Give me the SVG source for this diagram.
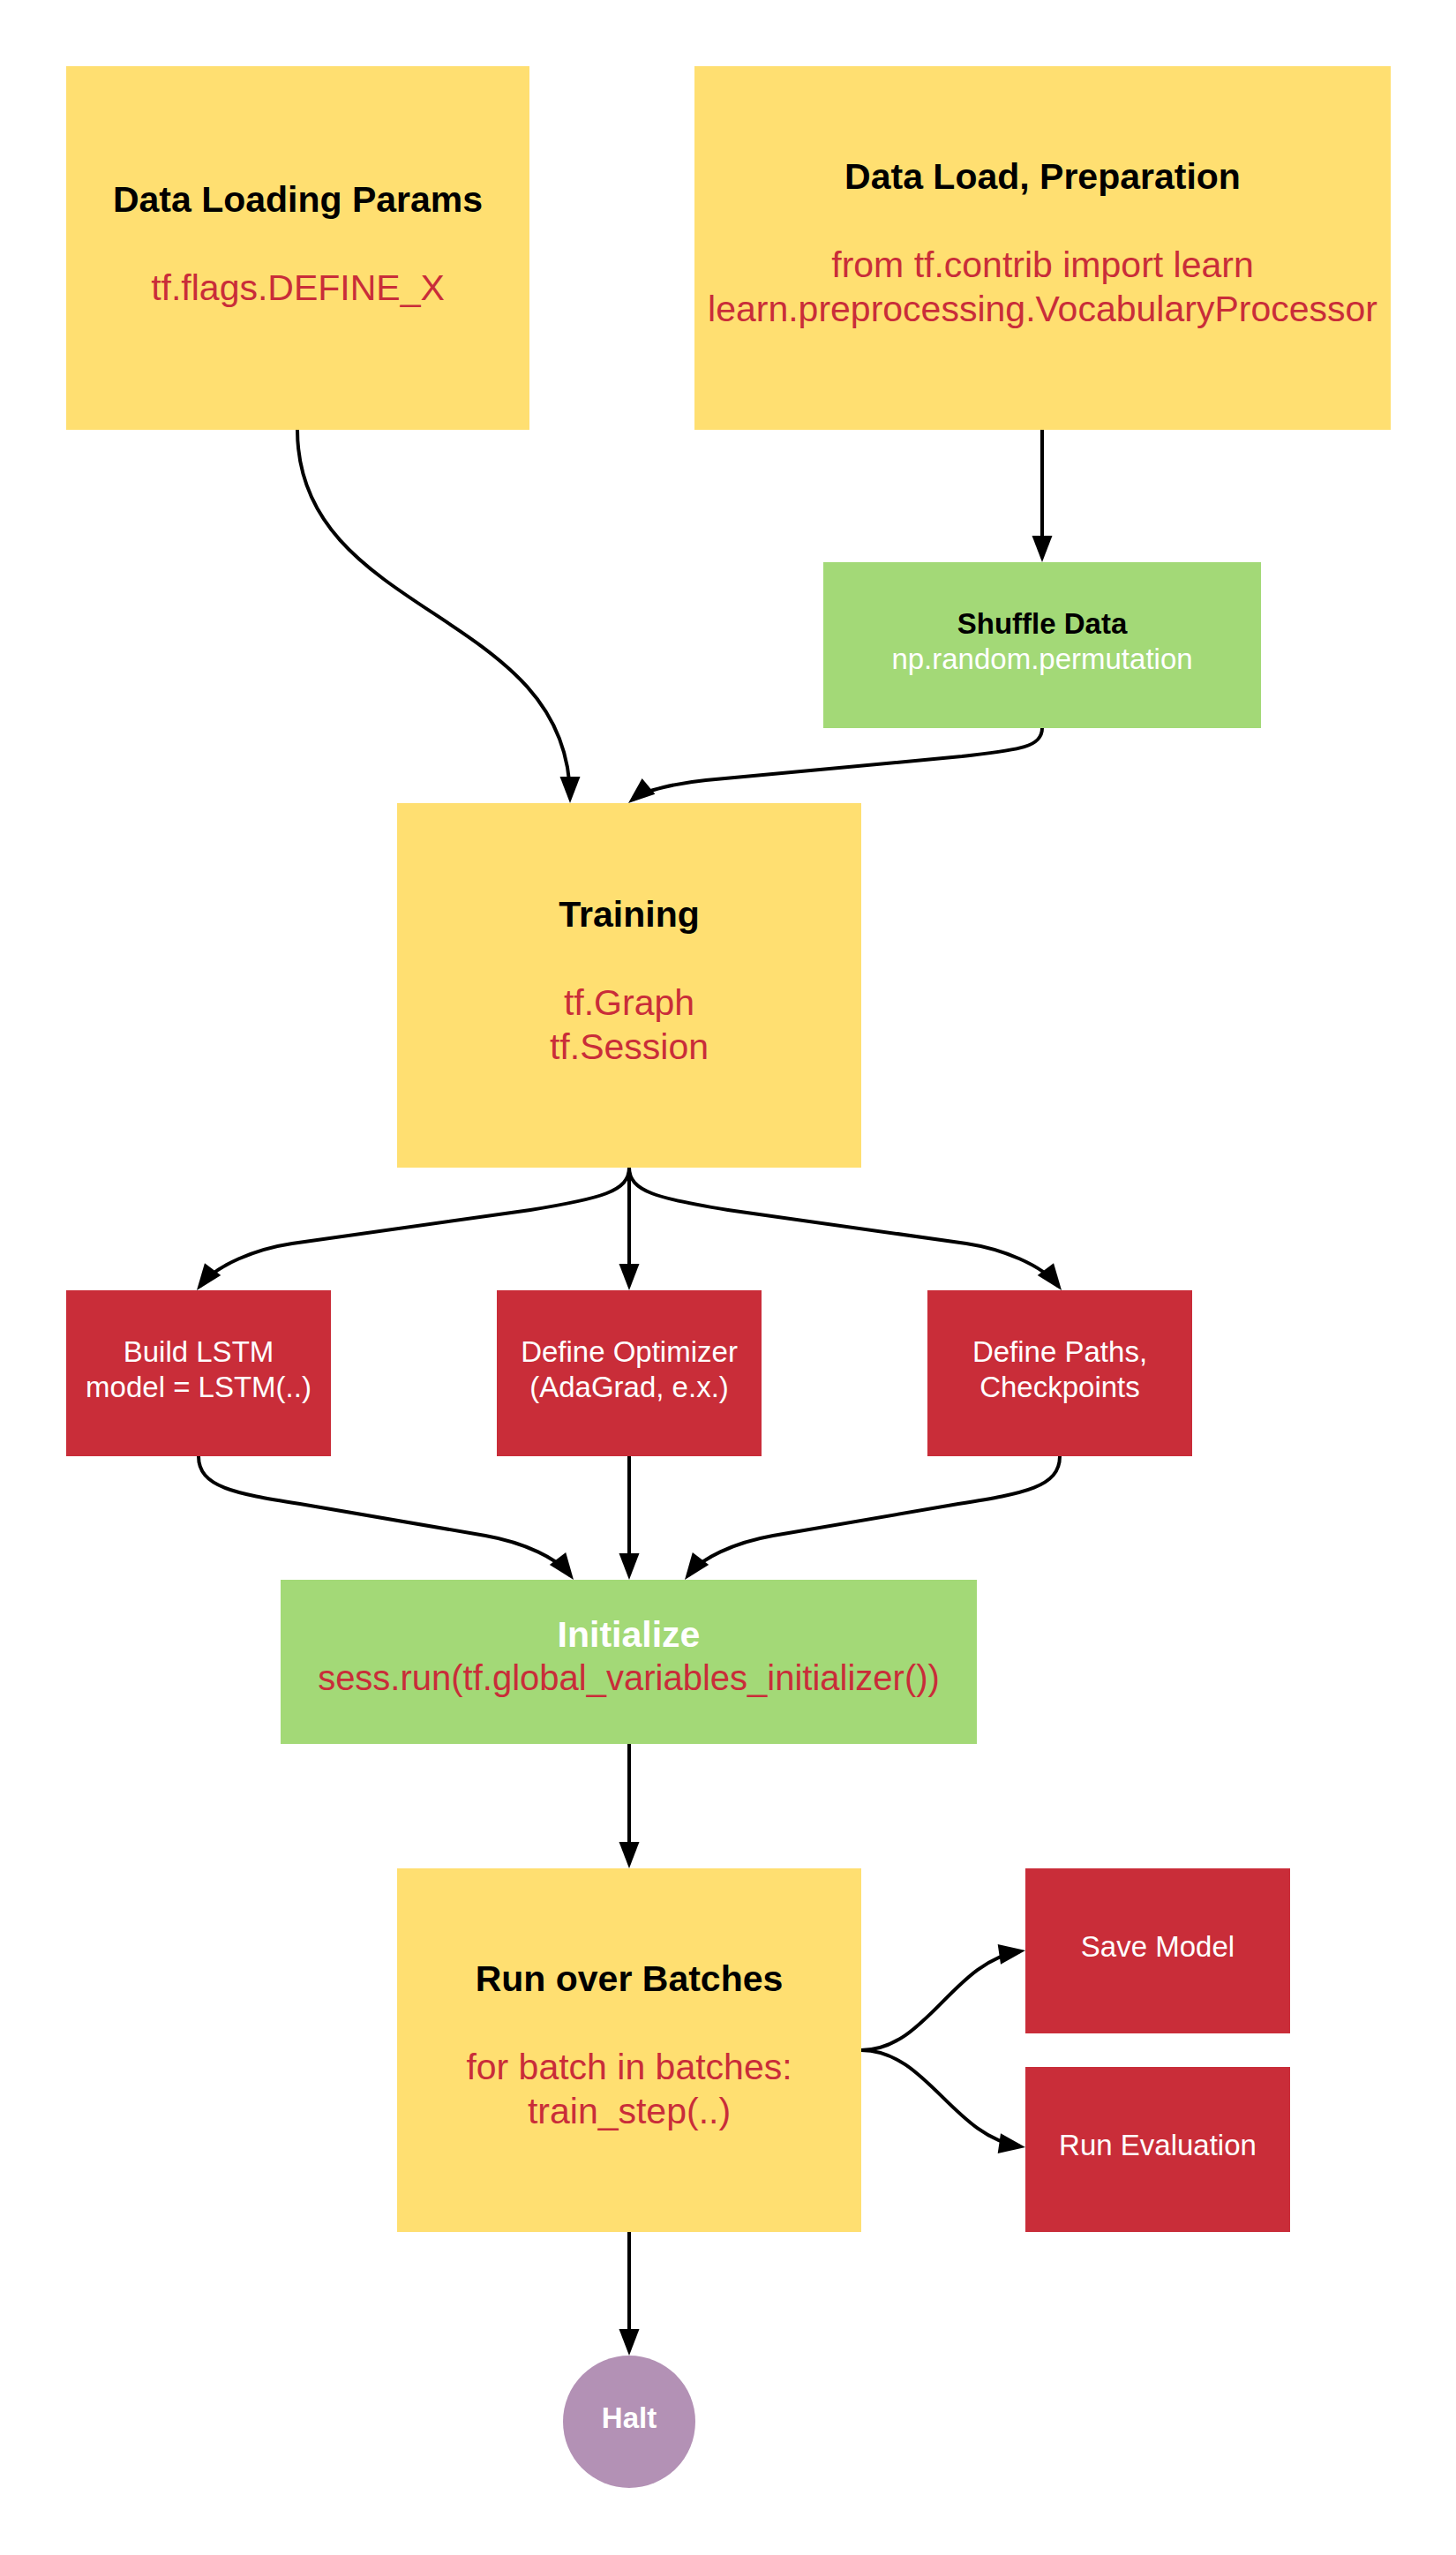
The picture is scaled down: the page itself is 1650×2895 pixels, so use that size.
<svg xmlns="http://www.w3.org/2000/svg" width="1650" height="2895" viewBox="0 0 1650 2895">
<defs>
<style>
text{font-family:"Liberation Sans",Arial,sans-serif;text-anchor:middle}
.yl{fill:#FFDF71}
.gr{fill:#A3D977}
.rd{fill:#C92D39}
.pu{fill:#B391B5}
.tb{font-size:41px;font-weight:bold;fill:#000}
.tr{font-size:41px;fill:#C92D39}
.sb{font-size:33px;font-weight:bold}
.sw{font-size:33px;fill:#fff}
.conn path{fill:none;stroke:#000;stroke-width:4;marker-end:url(#ah)}
</style>
<marker id="ah" markerUnits="userSpaceOnUse" markerWidth="32" markerHeight="25" refX="24" refY="11.5" orient="auto" overflow="visible">
<path d="M0,0 L30,11.5 L0,23 Z" fill="#000"/>
</marker>
</defs>
<rect width="1650" height="2895" fill="#fff"/>

<g id="connectors" class="conn">
<path d="M337,487 C337,700 646,690 646,904"/>
<path d="M1181,487 L1181,631"/>
<path d="M1181,825 C1181,848 1150,850 1090,857 L800,884 C770,887 730,895 716.6,906.2"/>
<path d="M713,1323 C713,1350 681,1358 601,1371 L331,1409 C291,1415 245,1433 226.6,1457.2"/>
<path d="M713,1323 L713,1456"/>
<path d="M713,1323 C713,1350 745,1358 825,1371 L1095,1409 C1135,1415 1181,1433 1199.4,1457.2"/>
<path d="M225,1650 C225,1685 265,1692 340,1704 L550,1740 C595,1748 632,1766 646.4,1785.2"/>
<path d="M713,1650 L713,1784"/>
<path d="M1201,1650 C1201,1685 1161,1692 1086,1704 L876,1740 C831,1748 794,1766 779.6,1785.2"/>
<path d="M713,1976 L713,2111"/>
<path d="M976,2323 C1050,2323 1080,2222 1156.1,2210.9"/>
<path d="M976,2323 C1050,2323 1080,2421 1156.1,2432.1"/>
<path d="M713,2529 L713,2663"/>
</g>

<g id="data-loading-params">
<rect class="yl" x="75" y="75" width="525" height="412"/>
<text class="tb" x="337.5" y="240">Data Loading Params</text>
<text class="tr" x="337.5" y="340">tf.flags.DEFINE_X</text>
</g>

<g id="data-load-preparation">
<rect class="yl" x="787" y="75" width="789" height="412"/>
<text class="tb" x="1181.5" y="214">Data Load, Preparation</text>
<text class="tr" x="1181.5" y="314">from tf.contrib import learn</text>
<text class="tr" x="1181.5" y="364">learn.preprocessing.VocabularyProcessor</text>
</g>

<g id="shuffle-data">
<rect class="gr" x="933" y="637" width="496" height="188"/>
<text class="sb" x="1181" y="717.5">Shuffle Data</text>
<text class="sw" x="1181" y="757.5">np.random.permutation</text>
</g>

<g id="training">
<rect class="yl" x="450" y="910" width="526" height="413"/>
<text class="tb" x="713" y="1050">Training</text>
<text class="tr" x="713" y="1150">tf.Graph</text>
<text class="tr" x="713" y="1200">tf.Session</text>
</g>

<g id="build-lstm">
<rect class="rd" x="75" y="1462" width="300" height="188"/>
<text class="sw" x="225" y="1543">Build LSTM</text>
<text class="sw" x="225" y="1583">model = LSTM(..)</text>
</g>

<g id="define-optimizer">
<rect class="rd" x="563" y="1462" width="300" height="188"/>
<text class="sw" x="713" y="1543">Define Optimizer</text>
<text class="sw" x="713" y="1583">(AdaGrad, e.x.)</text>
</g>

<g id="define-paths">
<rect class="rd" x="1051" y="1462" width="300" height="188"/>
<text class="sw" x="1201" y="1543">Define Paths,</text>
<text class="sw" x="1201" y="1583">Checkpoints</text>
</g>

<g id="initialize">
<rect class="gr" x="318" y="1790" width="789" height="186"/>
<text class="tb" x="712.5" y="1866" style="fill:#fff">Initialize</text>
<text class="tr" x="712.5" y="1915" style="font-size:40px">sess.run(tf.global_variables_initializer())</text>
</g>

<g id="run-over-batches">
<rect class="yl" x="450" y="2117" width="526" height="412"/>
<text class="tb" x="713" y="2256">Run over Batches</text>
<text class="tr" x="713" y="2356">for batch in batches:</text>
<text class="tr" x="713" y="2406">train_step(..)</text>
</g>

<g id="save-model">
<rect class="rd" x="1162" y="2117" width="300" height="187"/>
<text class="sw" x="1312" y="2217">Save Model</text>
</g>

<g id="run-evaluation">
<rect class="rd" x="1162" y="2342" width="300" height="187"/>
<text class="sw" x="1312" y="2442">Run Evaluation</text>
</g>

<g id="halt">
<circle class="pu" cx="713" cy="2744" r="75"/>
<text class="sb" x="713" y="2751" style="fill:#fff">Halt</text>
</g>
</svg>
